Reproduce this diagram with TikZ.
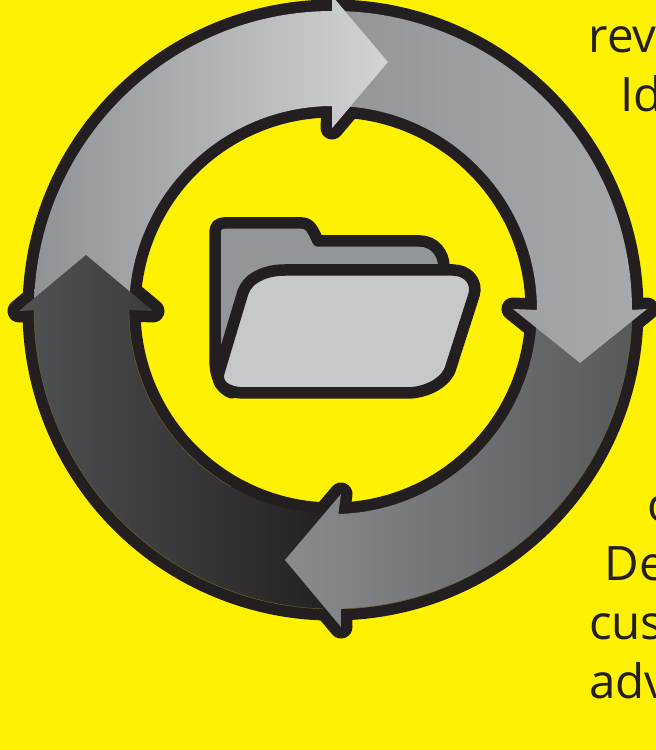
\documentclass[tikz,border=0pt]{standalone}
\usepackage{fontspec}
\setmainfont{Open Sans}
\definecolor{bgy}{HTML}{FFF200}
\definecolor{ink}{HTML}{231F20}
\definecolor{edgeo}{HTML}{6E6A2A}
\definecolor{aL}{HTML}{8F9195}\definecolor{aR}{HTML}{D1D3D4}
\definecolor{bL}{HTML}{939598}\definecolor{bR}{HTML}{A7A9AC}
\definecolor{cL}{HTML}{898B8E}\definecolor{cR}{HTML}{58595B}
\definecolor{dL}{HTML}{505254}\definecolor{dR}{HTML}{231F20}
\definecolor{folderback}{HTML}{939598}
\definecolor{folderfront}{HTML}{C7C8CA}
\newcommand{\pathA}{(34,440) arc[start angle=180,end angle=90,radius=299] -- (332,754) -- (388,688) -- (332,622) -- (333,644) arc[start angle=90,end angle=180,radius=204] -- cycle}
\newcommand{\headA}{(332,754) -- (388,688) -- (332,622) -- cycle}
\newcommand{\pathB}{(333,739) arc[start angle=90,end angle=0,radius=299] -- (647,441) -- (580,387) -- (513,441) -- (537,440) arc[start angle=0,end angle=90,radius=204] -- cycle}
\newcommand{\pathC}{(632,440) arc[start angle=0,end angle=-88.5,radius=299] -- (341,123) -- (285,190) -- (341,256) -- (338.3,236) arc[start angle=-88.5,end angle=0,radius=204] -- cycle}
\newcommand{\pathD}{(340.8,141) arc[start angle=-88.5,end angle=-180,radius=299] -- (19,439) -- (86,495) -- (153,439) -- (129,440) arc[start angle=180,end angle=268.5,radius=204] -- cycle}
\newcommand{\gradfill}[5]{\begin{scope}\clip #1;\shade[left color=#2,right color=#3] (#4,-20) rectangle (#5,770);\end{scope}}
\tikzset{
  outline/.style={draw=ink,line width=23pt,line join=round,fill=ink},
  wordtext/.style={anchor=base west,inner sep=0pt,text=ink,font=\fontsize{47.5}{50}\selectfont},
  folderline/.style={draw=ink,line width=11.5pt,line join=round}
}
\begin{document}
\begin{tikzpicture}[x=1pt,y=1pt]
\useasboundingbox (0,0) rectangle (656,750);
\clip (0,0) rectangle (656,750);
\fill[bgy] (0,0) rectangle (656,750);
% labels
\node[wordtext] (t1) at (588.5,697) {rev};
\node[wordtext] (t2) at (620.5,638) {Id};
\node[wordtext] (t3) at (647,228) {c};
\node[wordtext] (t4) at (604.5,169) {De};
\node[wordtext] (t5) at (589,110) {cus};
\node[wordtext] (t6) at (589,51) {adv};
% black outlines
\draw[outline] \pathA; \draw[outline] \pathB; \draw[outline] \pathC; \draw[outline] \pathD;
% fills
\gradfill{\pathA}{aL}{aR}{30}{388}
\gradfill{\pathD}{dL}{dR}{19}{340}
\draw[edgeo,line width=.4pt] (129,440) arc[start angle=180,end angle=240,radius=204];
\draw[edgeo,line width=.4pt] (34,440) arc[start angle=180,end angle=268,radius=299];
\gradfill{\pathC}{cL}{cR}{285}{632}
\draw[edgeo,line width=.4pt] (632,440) arc[start angle=0,end angle=-88,radius=299];
\gradfill{\pathB}{bL}{bR}{333}{647}
\gradfill{\headA}{aL}{aR}{30}{388}
% folder
\filldraw[folderline,fill=folderback] (232,357) .. controls (222,360) and (215,372) .. (215,390) -- (215,518) .. controls (215,524) and (219,527) .. (224,527) -- (302,527) .. controls (310,527) and (313,520) .. (318,509) -- (420,509) .. controls (434,509) and (444,497) .. (444,483) -- (444,470) -- (300,470) -- cycle;
\filldraw[folderline,fill=folderfront] (285,480) -- (453,480) .. controls (468,480) and (478,468) .. (474,455) -- (450,380) .. controls (444,366) and (425,357) .. (407,357) -- (245,357) .. controls (228,357) and (215,364) .. (219,378) -- (243,458) .. controls (248,472) and (265,480) .. (285,480) -- cycle;
\end{tikzpicture}
\end{document}
